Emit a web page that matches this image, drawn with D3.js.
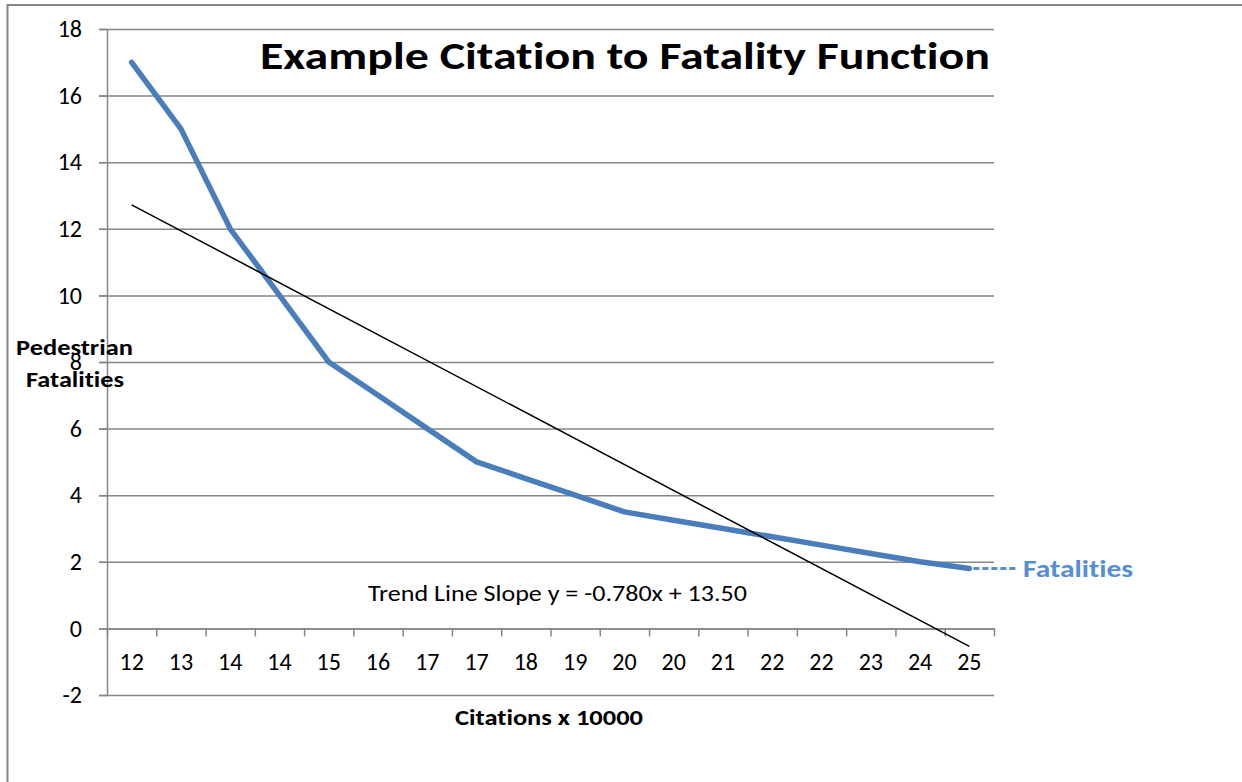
<!DOCTYPE html>
<html>
<head>
<meta charset="utf-8">
<script src="https://cdn.jsdelivr.net/npm/d3@7"></script>
<style>
  body { margin: 0; background: #fff; }
  svg { display: block; font-family: Carlito, Calibri, Lato, sans-serif; font-variant-ligatures: none; }
  .axis path, .axis line { stroke: #868686; stroke-width: 1.5; }
  .grid line { stroke: #868686; stroke-width: 1.5; }
  .grid path { display: none; }
</style>
</head>
<body>
<svg width="1242" height="782"></svg>
<script>
// chart values
var categories = ["12","13","14","14","15","16","17","17","18","19","20","20","21","22","22","23","24","25"];
var fatalities = [17, 15, 12, 10, 8, 7, 6, 5, 4.5, 4, 3.5, 3.25, 3, 2.75, 2.5, 2.25, 2, 1.8];
var yTicks = [-2, 0, 2, 4, 6, 8, 10, 12, 14, 16, 18];
var trendSlope = -0.780, trendIntercept = 13.50;
var seriesName = "Fatalities";

var svg = d3.select("svg"),
	plotL = 107, plotR = 994, plotT = 29, plotB = 695;

// outer chart frame (runs off the page on right and bottom)
svg.append("rect")
	.attr("x", 7.5).attr("y", 5)
	.attr("width", 1400).attr("height", 900)
	.attr("fill", "none")
	.attr("stroke", "#868686")
	.attr("stroke-width", 2);

var x = d3.scaleBand().domain(d3.range(categories.length)).range([plotL, plotR]),
	xEdge = d3.scaleLinear().domain([0, categories.length]).range([plotL, plotR]),
	y = d3.scaleLinear().domain([-2, 18]).range([plotB, plotT]);

// gridlines
svg.append("g")
	.attr("class", "grid")
	.attr("transform", "translate(" + (plotL - 8) + ",0)")
	.call(d3.axisRight(y).tickValues(yTicks).tickSize(plotR - plotL + 8).tickFormat(""));

// y axis
var yAxis = svg.append("g")
	.attr("class", "axis")
	.attr("transform", "translate(" + plotL + ",0)")
	.call(d3.axisLeft(y).tickValues(yTicks).tickSize(8).tickSizeOuter(0).tickPadding(17)
		.tickFormat(function(d){ return String(d); }))
	.attr("font-family", null)
	.attr("font-size", null);
yAxis.selectAll("text")
	.attr("fill", "#000")
	.style("font-size", "24px");

// x axis at zero: boundary ticks
svg.append("g")
	.attr("class", "axis")
	.attr("transform", "translate(0," + y(0) + ")")
	.call(d3.axisBottom(xEdge).tickValues(d3.range(categories.length + 1)).tickSize(8).tickSizeOuter(0).tickFormat(""));

// x labels
var xAxis = svg.append("g")
	.attr("transform", "translate(0," + y(0) + ")")
	.call(d3.axisBottom(x).tickSize(0).tickPadding(25).tickFormat(function(i){ return categories[i]; }))
	.attr("font-family", null)
	.attr("font-size", null);
xAxis.select(".domain").remove();
xAxis.selectAll("text")
	.attr("fill", "#000")
	.style("font-size", "24px");

// series line
var line = d3.line()
	.x(function(d, i) { return x(i) + x.bandwidth() / 2; })
	.y(function(d) { return y(d); });

svg.append("path")
	.datum(fatalities)
	.attr("d", line)
	.attr("fill", "none")
	.attr("stroke", "#4A7EBB")
	.attr("stroke-width", 5.5)
	.attr("stroke-linejoin", "round")
	.attr("stroke-linecap", "round");

// trend line (excel style, x = 1..n)
var n = categories.length;
svg.append("line")
	.attr("x1", x(0) + x.bandwidth() / 2)
	.attr("y1", y(trendSlope * 1 + trendIntercept))
	.attr("x2", x(n - 1) + x.bandwidth() / 2)
	.attr("y2", y(trendSlope * n + trendIntercept))
	.attr("stroke", "#000")
	.attr("stroke-width", 1.5);

// legend
var lastX = x(n - 1) + x.bandwidth() / 2, lastY = y(fatalities[n - 1]);
svg.append("line")
	.attr("x1", lastX + 4).attr("y1", lastY)
	.attr("x2", 1016).attr("y2", lastY)
	.attr("stroke", "#558ED5")
	.attr("stroke-width", 3)
	.attr("stroke-dasharray", "6,3");
svg.append("text")
	.attr("x", 1023).attr("y", 577)
	.attr("fill", "#558ED5")
	.style("font-size", "25px")
	.style("font-weight", "bold")
	.attr("textLength", 110)
	.attr("lengthAdjust", "spacingAndGlyphs")
	.text(seriesName);

// title
svg.append("text")
	.attr("x", 260).attr("y", 69)
	.style("font-size", "39px")
	.style("font-weight", "bold")
	.attr("textLength", 730)
	.attr("lengthAdjust", "spacingAndGlyphs")
	.text("Example Citation to Fatality Function");

// trend label
svg.append("text")
	.attr("x", 368).attr("y", 601)
	.style("font-size", "23px")
	.attr("textLength", 379)
	.attr("lengthAdjust", "spacingAndGlyphs")
	.text("Trend Line Slope y = -0.780x + 13.50");

// axis titles
svg.append("text")
	.attr("x", 455).attr("y", 725)
	.style("font-size", "22px")
	.style("font-weight", "bold")
	.attr("textLength", 188)
	.attr("lengthAdjust", "spacingAndGlyphs")
	.text("Citations x 10000");

svg.append("text")
	.attr("x", 16).attr("y", 355)
	.style("font-size", "23px")
	.style("font-weight", "bold")
	.attr("textLength", 117)
	.attr("lengthAdjust", "spacingAndGlyphs")
	.text("Pedestrian");
svg.append("text")
	.attr("x", 26).attr("y", 387)
	.style("font-size", "23px")
	.style("font-weight", "bold")
	.attr("textLength", 98)
	.attr("lengthAdjust", "spacingAndGlyphs")
	.text("Fatalities");
</script>
</body>
</html>
